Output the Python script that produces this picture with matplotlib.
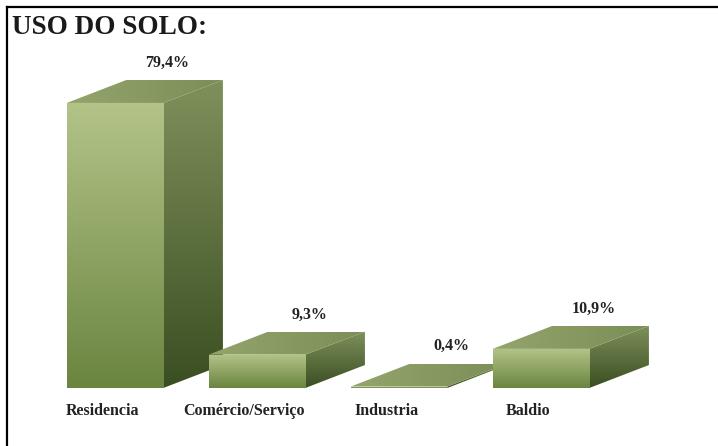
import matplotlib
matplotlib.use("Agg")
import matplotlib.pyplot as plt
import numpy as np
from matplotlib.colors import LinearSegmentedColormap
from matplotlib.patches import Polygon
from matplotlib.lines import Line2D

plt.rcParams["font.family"] = ["Liberation Serif", "DejaVu Serif"]

# dados
categorias = ["Residencia", "Comércio/Serviço", "Industria", "Baldio"]
valores = [79.4, 9.3, 0.4, 10.9]
rotulos = ["79,4%", "9,3%", "0,4%", "10,9%"]
titulo = "USO DO SOLO:"

W, H = 718, 446
fig = plt.figure(figsize=(W / 100, H / 100), dpi=100)
ax = fig.add_axes([0, 0, 1, 1])
PX_X, PX_Y = 142.0, 3.59      # pixels por categoria / por ponto percentual
X0, Y0 = 115, 58              # centro da 1a barra / linha de base (px)
XLIM = (-X0 / PX_X, (W - X0) / PX_X)
YLIM = (-Y0 / PX_Y, (H - Y0) / PX_Y)
LARG = 0.68                   # largura da face frontal
DX, DY = 0.42, 6.4            # profundidade (perspectiva)


def gradiente(patch, ext, c_ini, c_fim, vertical=True, z=2):
    g = np.linspace(0, 1, 256)
    img = g[:, None] if vertical else g[None, :]
    cmap = LinearSegmentedColormap.from_list("g", [c_ini, c_fim])
    im = ax.imshow(img, cmap=cmap, extent=ext, origin="lower",
                   aspect="auto", interpolation="bilinear", zorder=z)
    im.set_clip_path(patch)


x = np.arange(len(categorias))
barras = ax.bar(x, valores, LARG, color="none", edgecolor="none")

for i, (b, v) in enumerate(zip(barras, valores)):
    z = 2 + i * 0.1
    xl, xr = b.get_x(), b.get_x() + b.get_width()
    # face lateral
    lado = np.array([[xr, 0], [xr + DX, DY], [xr + DX, v + DY], [xr, v]])
    p = Polygon(lado, closed=True, fc="none", ec="none", zorder=z)
    ax.add_patch(p)
    gradiente(p, (xr, xr + DX, 0, v + DY), "#3b4e22", "#7f915b", z=z)
    # topo
    topo = np.array([[xl, v], [xr, v], [xr + DX, v + DY], [xl + DX, v + DY]])
    p = Polygon(topo, closed=True, fc="none", ec="none", zorder=z)
    ax.add_patch(p)
    gradiente(p, (xl, xr + DX, v, v + DY), "#93a56c", "#7c8e57", vertical=False, z=z)
    # frente
    b.set_zorder(z + 0.01)
    gradiente(b, (xl, xr, 0, max(v, 0.01)), "#6a8540", "#b4c489", z=z + 0.01)
    # rótulo de valor
    ax.text(x[i] + 0.37, v + DY + 4.8, rotulos[i], ha="center", va="center",
            fontsize=11.5, fontweight="bold", color="#222222", zorder=5)
    # categoria
    ax.text(x[i] - 0.09, -6.4, categorias[i], ha="center", va="center",
            fontsize=11.5, fontweight="bold", color="#222222", zorder=5)

ax.set_xlim(*XLIM)
ax.set_ylim(*YLIM)
ax.axis("off")

fig.text(12 / W, 1 - 28 / H, titulo, ha="left", va="center",
         fontsize=19.5, fontweight="bold", color="#1a1a1a")

# moldura (topo e esquerda)
fig.add_artist(Line2D([7 / W, 1], [1 - 7 / H, 1 - 7 / H], color="black", lw=1.6))
fig.add_artist(Line2D([7 / W, 7 / W], [0, 1 - 7 / H], color="black", lw=1.6))

fig.savefig("out.png", dpi=100, facecolor="white")
